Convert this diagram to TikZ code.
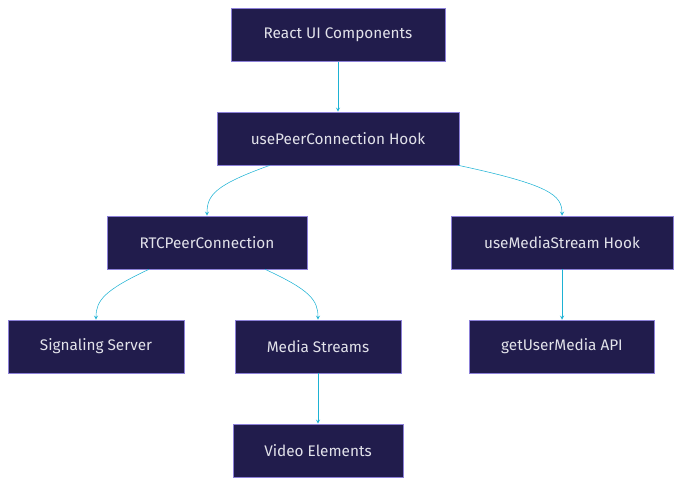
\documentclass[tikz,border=0pt]{standalone}
\usepackage{fontspec}
\setmainfont{Fira Sans}
\usetikzlibrary{positioning}
\definecolor{boxfill}{HTML}{211C4C}
\definecolor{boxline}{HTML}{8C80D8}
\definecolor{boxtext}{HTML}{E2E2EA}
\definecolor{arrowc}{HTML}{1DB2D4}

\begin{document}
\begin{tikzpicture}[x=0.75pt, y=-0.75pt,
    part/.style={draw=boxline, fill=boxfill, text=boxtext, minimum height=53*0.75pt, font=\fontsize{11.5}{14}\selectfont, inner sep=0pt},
    flow/.style={->, draw=arrowc, >=stealth}]
    \useasboundingbox (0,0) rectangle (682,486);

    \node[part, minimum width=214*0.75pt] (UI) at (338,35) {React UI Components};
    \node[part, minimum width=242*0.75pt] (PCH) at (338,138.5) {usePeerConnection Hook};
    \node[part, minimum width=200*0.75pt] (RTC) at (207,242.5) {RTCPeerConnection};
    \node[part, minimum width=222*0.75pt] (MSH) at (562,242.5) {useMediaStream Hook};
    \node[part, minimum width=176*0.75pt] (SIG) at (96,346.5) {Signaling Server};
    \node[part, minimum width=166*0.75pt] (MS) at (318,346.5) {Media Streams};
    \node[part, minimum width=185*0.75pt] (GUM) at (562,346.5) {getUserMedia API};
    \node[part, minimum width=170*0.75pt] (VID) at (318,450.5) {Video Elements};

    \draw[flow] (UI) -- (PCH);
    \draw[flow] ([xshift=-68*0.75pt]PCH.south) .. controls (215,185) and (207,195) .. (RTC.north);
    \draw[flow] ([xshift=120*0.75pt]PCH.south) .. controls (550,185) and (562,195) .. (MSH.north);
    \draw[flow] ([xshift=-58*0.75pt]RTC.south) .. controls (105,290) and (96,300) .. (SIG.north);
    \draw[flow] ([xshift=58*0.75pt]RTC.south) .. controls (310,290) and (318,300) .. (MS.north);
    \draw[flow] (MSH) -- (GUM);
    \draw[flow] (MS) -- (VID);
\end{tikzpicture}
\end{document}
